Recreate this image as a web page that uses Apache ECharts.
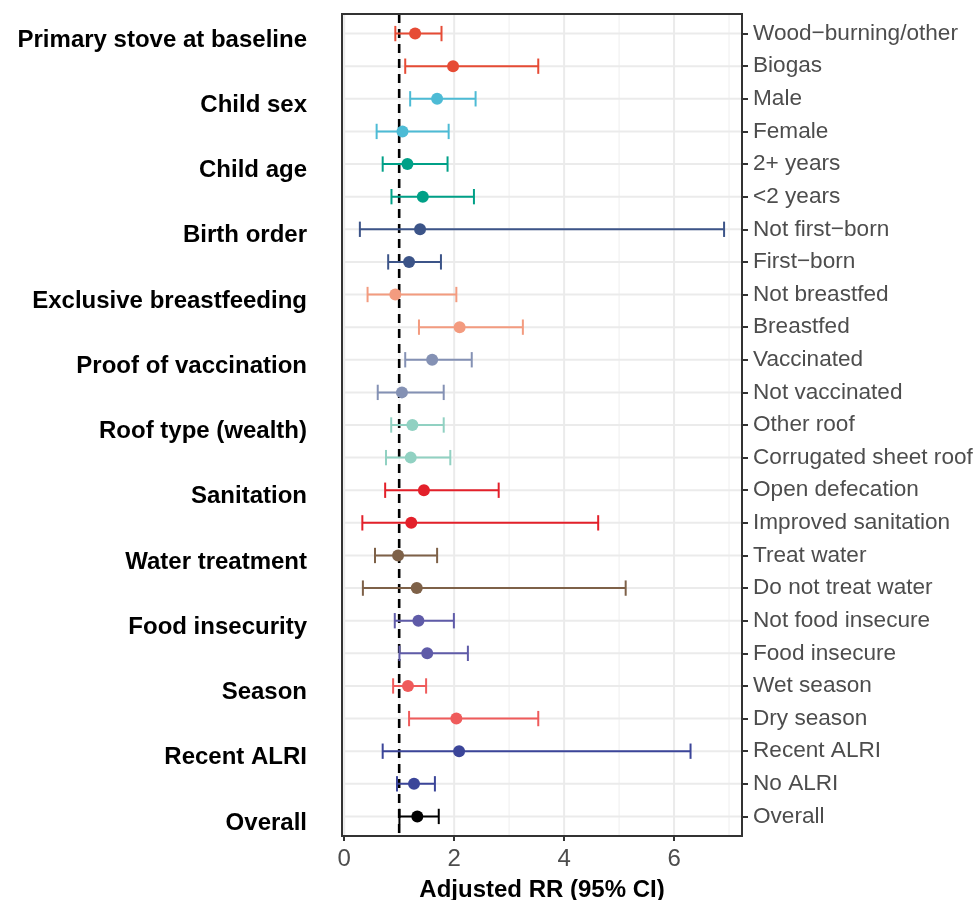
<!DOCTYPE html>
<html>
<head>
<meta charset="utf-8">
<script src="https://cdn.jsdelivr.net/npm/echarts@6/dist/echarts.min.js"></script>
<style>html,body{margin:0;padding:0;background:#fff}#c{width:975px;height:900px}</style>
</head>
<body>
<div id="c"></div>
<script>
// ---- data ----
const rowLabels = ["Wood\u2212burning/other","Biogas","Male","Female","2+ years","<2 years",
  "Not first\u2212born","First\u2212born","Not breastfed","Breastfed","Vaccinated","Not vaccinated",
  "Other roof","Corrugated sheet roof","Open defecation","Improved sanitation","Treat water",
  "Do not treat water","Not food insecure","Food insecure","Wet season","Dry season",
  "Recent ALRI","No ALRI","Overall"];
const estimate = [1.29,1.98,1.69,1.06,1.15,1.43,1.38,1.18,0.93,2.10,1.60,1.05,1.24,1.21,1.45,1.22,0.98,1.32,1.35,1.51,1.16,2.04,2.09,1.27,1.33];
const lower    = [0.93,1.11,1.20,0.59,0.70,0.86,0.285,0.80,0.425,1.36,1.11,0.61,0.855,0.76,0.745,0.33,0.56,0.34,0.92,1.005,0.89,1.18,0.70,0.96,1.005];
const upper    = [1.77,3.53,2.39,1.90,1.88,2.36,6.91,1.76,2.04,3.25,2.32,1.81,1.81,1.93,2.81,4.62,1.69,5.12,1.995,2.25,1.49,3.53,6.30,1.65,1.72];
const groupOfRow = [0,0,1,1,2,2,3,3,4,4,5,5,6,6,7,7,8,8,9,9,10,10,11,11,12];
const groupNames = ["Primary stove at baseline","Child sex","Child age","Birth order","Exclusive breastfeeding",
  "Proof of vaccination","Roof type (wealth)","Sanitation","Water treatment","Food insecurity","Season","Recent ALRI","Overall"];
const groupColors = ["#E64B35","#4DBBD5","#00A087","#3C5488","#F39B7F","#8491B4","#91D1C2","#E3202A","#7E6148","#5F5BA8","#EF5B5B","#3B4599","#000000"];
const groupFirstRow = [1,3,5,7,9,11,13,15,17,19,21,23,25];
const xTicks = [0,2,4,6];
const xMinor = [1,3,5,7];
const refLine = 1;
const xTitle = "Adjusted RR (95% CI)";

const rows = rowLabels.map((_, i) => i + 1);
const barData = rows.map((r, i) => [r, estimate[i], lower[i], upper[i], groupOfRow[i]]);

const chart = echarts.init(document.getElementById('c'), null, {renderer: 'canvas'});
const FONT = 'Liberation Sans, Arial, Helvetica, sans-serif';

chart.setOption({
  animation: false,
  backgroundColor: '#fff',
  grid: {left: 342, right: 233, top: 14, bottom: 64, containLabel: false, outerBoundsMode: 'none',
    show: true, borderColor: '#333333', borderWidth: 2, backgroundColor: 'transparent', z: 10},
  xAxis: {
    type: 'value', min: -0.04, max: 7.236,
    name: xTitle, nameLocation: 'middle', nameGap: 42,
    nameTextStyle: {fontFamily: FONT, fontSize: 24, fontWeight: 'bold', color: '#000'},
    axisLine: {show: true, onZero: false, lineStyle: {color: '#333333', width: 2}},
    axisTick: {show: true, length: 5, customValues: xTicks, lineStyle: {color: '#333333', width: 2}},
    axisLabel: {customValues: xTicks, fontFamily: FONT, fontSize: 24, color: '#4d4d4d', margin: 11.5},
    splitLine: {show: false}
  },
  yAxis: [{
    type: 'value', min: 0.4, max: 25.6, inverse: true, position: 'right',
    axisLine: {show: true, onZero: false, lineStyle: {color: '#333333', width: 2}},
    axisTick: {show: true, length: 6, customValues: rows, lineStyle: {color: '#333333', width: 2}},
    axisLabel: {customValues: rows, fontFamily: FONT, fontSize: 22.6, color: '#4d4d4d', margin: 11,
      formatter: v => rowLabels[Math.round(v) - 1] || ''},
    splitLine: {show: false}
  }, {
    type: 'value', min: 0.4, max: 25.6, inverse: true, position: 'left',
    axisLine: {show: false, onZero: false}, axisTick: {show: false},
    axisLabel: {customValues: groupFirstRow, fontFamily: FONT, fontSize: 24, fontWeight: 'bold', color: '#000', margin: 35,
      verticalAlign: 'top', lineHeight: 13,
      formatter: v => groupNames[groupFirstRow.indexOf(Math.round(v))] || ''},
    splitLine: {show: false}
  }],
  series: [{
    type: 'custom', name: 'gridlines', z: 1, silent: true,
    data: [0],
    renderItem: (params, api) => {
      const ch = [];
      const y0 = 0.4, y1 = 25.6, x0 = -0.04, x1 = 7.236;
      xMinor.forEach(v => {
        const a = api.coord([v, y0]), b = api.coord([v, y1]);
        ch.push({type: 'line', shape: {x1: a[0], y1: a[1], x2: b[0], y2: b[1]}, style: {stroke: '#f1f1f1', lineWidth: 1.2}});
      });
      xTicks.forEach(v => {
        const a = api.coord([v, y0]), b = api.coord([v, y1]);
        ch.push({type: 'line', shape: {x1: a[0], y1: a[1], x2: b[0], y2: b[1]}, style: {stroke: '#ebebeb', lineWidth: 2}});
      });
      rows.forEach(r => {
        const a = api.coord([x0, r]), b = api.coord([x1, r]);
        ch.push({type: 'line', shape: {x1: a[0], y1: a[1], x2: b[0], y2: b[1]}, style: {stroke: '#ebebeb', lineWidth: 2}});
      });
      return {type: 'group', children: ch};
    }
  }, {
    type: 'custom', name: 'ref', z: 3, silent: true,
    data: [[refLine]],
    renderItem: (params, api) => {
      const a = api.coord([api.value(0), 0.4]), b = api.coord([api.value(0), 25.6]);
      return {type: 'line', shape: {x1: a[0], y1: a[1], x2: b[0], y2: b[1]},
        style: {stroke: '#000', lineWidth: 2.6, lineDash: [9, 6]}};
    }
  }, {
    type: 'custom', name: 'estimates', z: 4,
    data: barData,
    encode: {x: [1, 2, 3], y: 0},
    renderItem: (params, api) => {
      const r = api.value(0), est = api.value(1), lo = api.value(2), hi = api.value(3);
      const col = groupColors[api.value(4)];
      const pLo = api.coord([lo, r]), pHi = api.coord([hi, r]), pE = api.coord([est, r]);
      const capT = api.coord([lo, r - 0.235])[1], capB = api.coord([lo, r + 0.235])[1];
      const st = {stroke: col, lineWidth: 2};
      return {type: 'group', children: [
        {type: 'line', shape: {x1: pLo[0], y1: pLo[1], x2: pHi[0], y2: pHi[1]}, style: st},
        {type: 'line', shape: {x1: pLo[0], y1: capT, x2: pLo[0], y2: capB}, style: st},
        {type: 'line', shape: {x1: pHi[0], y1: capT, x2: pHi[0], y2: capB}, style: st},
        {type: 'circle', shape: {cx: pE[0], cy: pE[1], r: 6}, style: {fill: col}}
      ]};
    }
  }]
});
</script>
</body>
</html>
